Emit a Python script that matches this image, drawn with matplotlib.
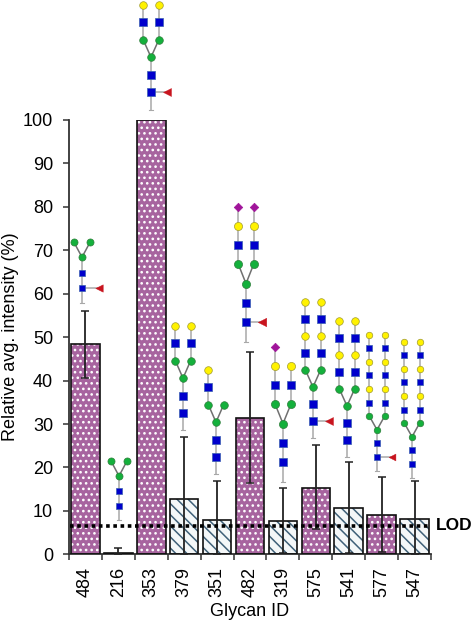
import matplotlib
matplotlib.use("Agg")
import matplotlib.pyplot as plt
import numpy as np

plt.rcParams['font.family'] = ['Liberation Sans', 'DejaVu Sans']
plt.rcParams['hatch.linewidth'] = 1.1

glycan_ids = ['484', '216', '353', '379', '351', '482', '319', '575', '541', '577', '547']
values = [48.4, 0.3, 100, 12.7, 8.0, 31.4, 7.7, 15.3, 10.7, 9.1, 8.1]
err_upper = [56.0, 1.5, None, 27.0, 16.9, 46.6, 15.3, 25.2, 21.2, 17.8, 16.9]
err_lower = [40.7, 0.0, None, 0.0, 0.0, 16.4, 0.3, 5.8, 0.2, 0.5, 0.0]
above_lod = [True, False, True, False, False, True, False, True, False, True, False]
lod = 6.5

# Glycan cartoons (pixel layout of the decorative structures)
gly_cx = [82, 119, 151, 183, 216, 246, 283, 313, 347, 377, 412]
gly_bottom = [303, 520, 110, 430, 474, 342, 482, 438, 457, 471, 478]
gly_first = [288, 506, 92, 413, 457, 322, 462, 421, 440, 457, 464]
gly_step = [15.4, 15, 17.4, 17.4, 17.4, 19.2, 19.2, 17, 17, 13.6, 13.6]
gly_half = [8.3, 8, 7.8, 7.6, 7.6, 7.6, 7.8, 7.6, 7.6, 7.6, 7.6]
gly_left = ['M', 'M', 'MNS', 'MNS', 'MNS', 'MNSA', 'MNSA', 'MNSNS', 'MNSNS', 'MNSNSNS', 'MNSNSNS']
gly_right = ['M', 'M', 'MNS', 'MNS', 'M', 'MNSA', 'MNS', 'MNSNS', 'MNSNS', 'MNSNSNS', 'MNSNSNS']
gly_fuc = [17, 0, 16, 0, 0, 16, 0, 16, 0, 15, 0]
gly_size = [26, 26, 30, 30, 30, 34, 34, 30, 30, 22, 22]

W, H = 475, 623
L, R, T, B = 69, 431, 120, 554.3
fig = plt.figure(figsize=(W / 100, H / 100), dpi=100)
ax = fig.add_axes([L / W, 1 - B / H, (R - L) / W, (B - T) / H])

x = np.arange(len(values))
PURPLE = '#A7649F'
STRIPE = '#3F6078'
for xi, v, hi in zip(x, values, above_lod):
    if hi:
        ax.bar(xi, v, width=0.865, color=PURPLE, edgecolor='white', hatch='...', linewidth=0, zorder=2)
    else:
        ax.bar(xi, v, width=0.865, color='#F4F7F8', edgecolor=STRIPE, hatch='\\\\\\', linewidth=0, zorder=2)
    ax.bar(xi, v, width=0.865, fill=False, edgecolor='#111111', linewidth=1.2, zorder=3)

for xi, v, up, lo in zip(x, values, err_upper, err_lower):
    if up is None:
        continue
    ax.errorbar(xi, v, yerr=[[v - lo], [up - v]], color='#222222', elinewidth=1.3,
                capsize=2.6, capthick=1.1, zorder=4, clip_on=False)

ax.plot([-0.47, 10.5], [lod, lod], color='black', lw=2.6, linestyle=(0, (1.0, 1.0)), zorder=5)

ax.set_xlim(-0.5, 10.5)
ax.set_ylim(0, 100)
ax.set_yticks(np.arange(0, 101, 10))
ax.set_xticks(x)
ax.set_xticklabels(glycan_ids, rotation=90, fontsize=13)
ax.set_xticks(np.arange(-0.5, 11, 1), minor=True)
ax.tick_params(axis='x', which='major', length=0, pad=9)
ax.tick_params(axis='x', which='minor', length=4, width=1.1, color='#333333')
ax.tick_params(axis='y', length=4.5, width=1.1, color='#333333', labelsize=13, pad=7)
for s in ['top', 'right']:
    ax.spines[s].set_visible(False)
for s in ['left', 'bottom']:
    ax.spines[s].set_linewidth(1.3)
    ax.spines[s].set_color('#333333')

fig.text(11 / W, 1 - 337 / H, 'Relative avg. intensity (%)', rotation=90, fontsize=13,
         ha='center', va='center')
fig.text(250 / W, 1 - 612 / H, 'Glycan ID', fontsize=13, ha='center', va='center')
fig.text(436 / W, 1 - 526 / H, 'LOD', fontsize=12.5, fontweight='bold', ha='left', va='center')

# overlay in pixel coordinates for the glycan cartoons
ov = fig.add_axes([0, 0, 1, 1], facecolor='none', zorder=10)
ov.set_xlim(0, W)
ov.set_ylim(H, 0)
ov.axis('off')

STYLE = {
    'N': dict(marker='s', color='#0000CC', ec='#3A5FB0'),
    'M': dict(marker='o', color='#14B03C', ec='#2E7D3A'),
    'S': dict(marker='o', color='#FFF200', ec='#A09A30'),
    'A': dict(marker='D', color='#A0149A', ec='#A0149A'),
}
LINE = dict(color='#A8A8A8', lw=1.1, zorder=1, solid_capstyle='butt')


def node(px, py, kind, s):
    st = STYLE[kind]
    size = s * (0.55 if kind == 'A' else 1.0) * (0.9 if kind == 'N' else 1.0)
    ov.scatter([px], [py], marker=st['marker'], s=size, c=st['color'], edgecolors=st['ec'],
               linewidths=0.5, zorder=3)


for cx, bot, first, step, half, left, right, fuc, s in zip(
        gly_cx, gly_bottom, gly_first, gly_step, gly_half, gly_left, gly_right, gly_fuc, gly_size):
    core = first - 2 * step
    ov.plot([cx, cx], [bot, core], **LINE)
    ov.plot([cx - 2, cx + 2], [bot, bot], color='#A8A8A8', lw=0.8)
    node(cx, first, 'N', s)
    node(cx, first - step, 'N', s)
    node(cx, core, 'M', s)
    if fuc:
        ov.plot([cx, cx + fuc], [first, first], **LINE)
        ov.scatter([cx + fuc], [first], marker='<', s=s * 1.1, c='#C8141E', edgecolors='#C8141E',
                   linewidths=0.3, zorder=3)
    for sign, arm in ((-1, left), (1, right)):
        ax_x = cx + sign * half
        ys = [core - step * (k + 1) for k in range(len(arm))]
        ov.plot([cx, ax_x], [core, ys[0]], **LINE | {'color': '#707070'})
        ov.plot([ax_x, ax_x], [ys[0], ys[-1]], **LINE)
        for kind, yy in zip(arm, ys):
            node(ax_x, yy, kind, s)

fig.savefig('out.png', dpi=100)
